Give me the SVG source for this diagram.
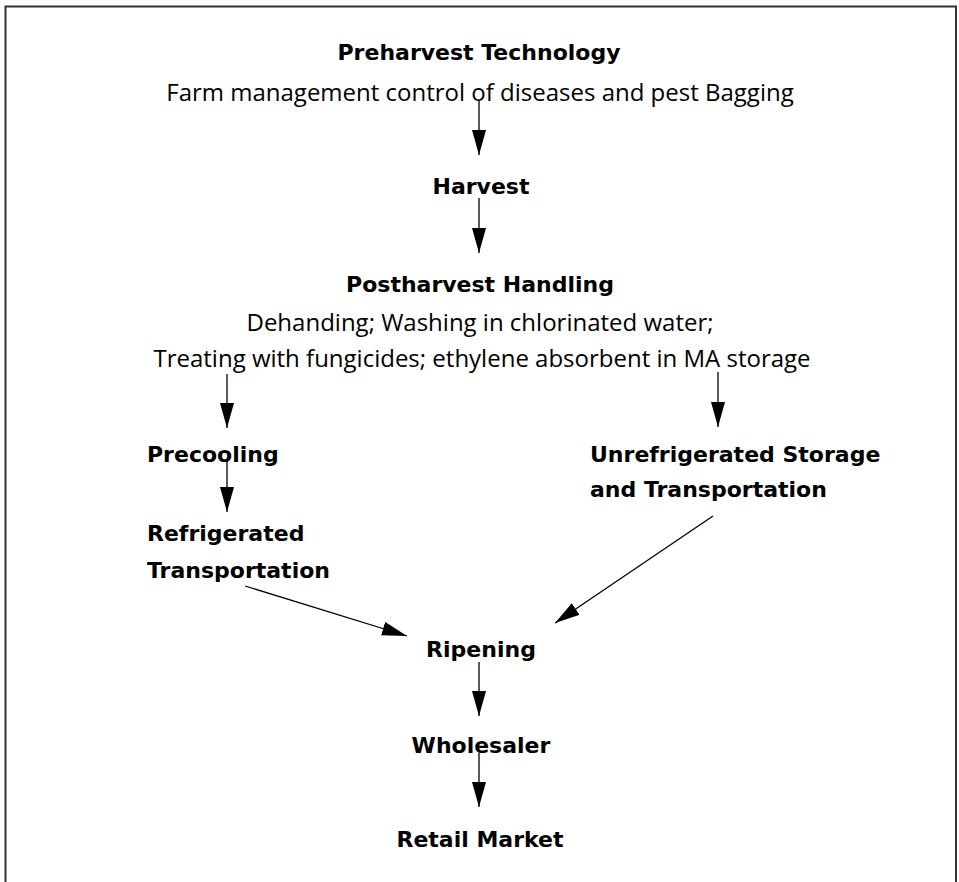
<svg xmlns="http://www.w3.org/2000/svg" width="959" height="882" viewBox="0 0 959 882">
<style>
.b{font-family:"DejaVu Sans","Liberation Sans",sans-serif;font-weight:bold;font-size:22px;fill:#000}
.r{font-family:"Open Sans","Liberation Sans",sans-serif;font-size:24px;fill:#000}
.c{text-anchor:middle}
.ln{stroke:#000;stroke-width:1.3;fill:none;marker-end:url(#ah)}
</style>
<defs>
<marker id="ah" markerUnits="userSpaceOnUse" markerWidth="26" markerHeight="16" refX="25" refY="7" orient="auto">
<path d="M0,0 L25,7 L0,14 Z" fill="#000"/>
</marker>
</defs>
<rect width="959" height="882" fill="#fff"/>
<path d="M5.5,882 V6.5 H956 V882" fill="none" stroke="#333" stroke-width="2"/>
<g id="connectors">
<line class="ln" x1="479" y1="100" x2="479" y2="155"/>
<line class="ln" x1="479" y1="198" x2="479" y2="253"/>
<line class="ln" x1="227" y1="374" x2="227" y2="428"/>
<line class="ln" x1="718" y1="372" x2="718" y2="427"/>
<line class="ln" x1="227" y1="460" x2="227" y2="512"/>
<line class="ln" x1="245" y1="586" x2="407" y2="636"/>
<line class="ln" x1="713" y1="516" x2="555" y2="623"/>
<line class="ln" x1="479" y1="662" x2="479" y2="716"/>
<line class="ln" x1="479" y1="753" x2="479" y2="807"/>
</g>
<g id="preharvest">
<text class="b c" x="479" y="60">Preharvest Technology</text>
<text class="r c" x="480" y="101">Farm management control of diseases and pest Bagging</text>
</g>
<g id="harvest"><text class="b c" x="481" y="194">Harvest</text></g>
<g id="postharvest">
<text class="b c" x="480" y="292">Postharvest Handling</text>
<text class="r c" x="480" y="331">Dehanding; Washing in chlorinated water;</text>
<text class="r c" x="482" y="367">Treating with fungicides; ethylene absorbent in MA storage</text>
</g>
<g id="precooling"><text class="b" x="147" y="462">Precooling</text></g>
<g id="refrigerated">
<text class="b" x="147" y="541">Refrigerated</text>
<text class="b" x="147" y="578">Transportation</text>
</g>
<g id="unrefrigerated">
<text class="b" x="590" y="462">Unrefrigerated Storage</text>
<text class="b" x="590" y="497">and Transportation</text>
</g>
<g id="ripening"><text class="b c" x="481" y="657">Ripening</text></g>
<g id="wholesaler"><text class="b c" x="481" y="753">Wholesaler</text></g>
<g id="retail"><text class="b c" x="480" y="847">Retail Market</text></g>
</svg>
